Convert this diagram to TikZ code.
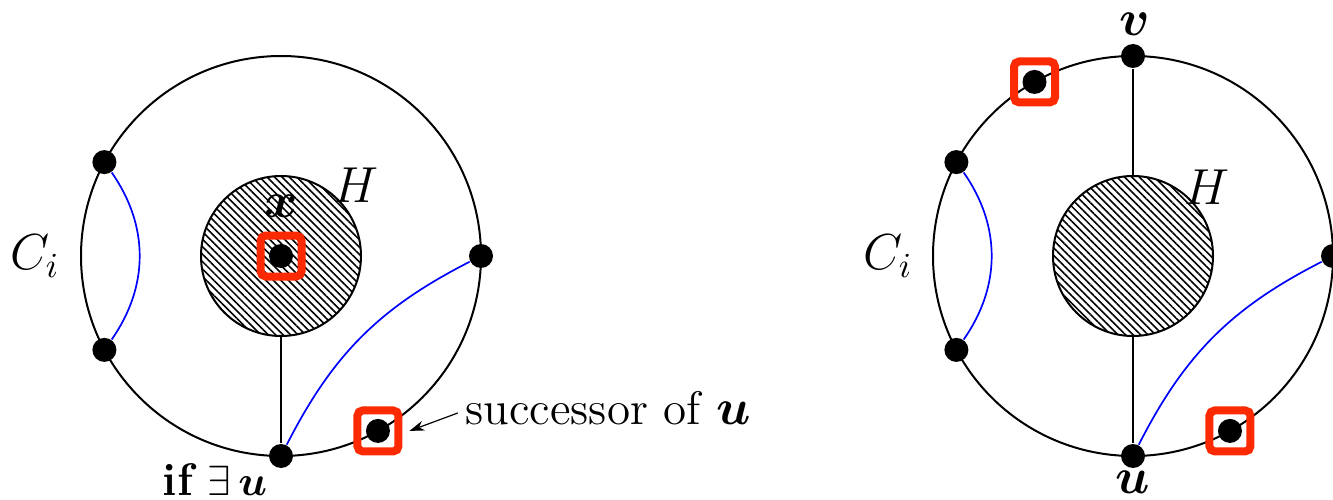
\documentclass[tikz,border=0pt]{standalone}
\usepackage{amsmath, amssymb, bm}
\usetikzlibrary{arrows.meta, positioning, calc, patterns.meta}
\definecolor{boxred}{RGB}{252,42,2}

\begin{document}
\begin{tikzpicture}[
  vtx/.style={circle, fill=black, inner sep=0pt, minimum size=0.24cm},
  selbox/.style={draw=boxred, line width=0.08cm, rounded corners=1.5pt, minimum size=0.41cm, inner sep=0pt},
  hole/.style={circle, draw, line width=0.02cm, inner sep=0pt, minimum size=1.6cm,
    pattern={Lines[angle=-45, distance=1.5pt, line width=0.45pt]}},
  lbl/.style={font=\fontsize{14.4}{17}\selectfont, inner sep=2pt},
  txt/.style={font=\fontsize{13.4}{16}\selectfont, inner sep=2pt},
  bluelink/.style={blue, line width=0.017cm},
]
\useasboundingbox (0,0) rectangle (13.33,4.99);
\coordinate (L) at (2.81,2.43);
\coordinate (R) at (11.33,2.43);
\foreach \c in {L,R}
  \draw[line width=0.02cm] (\c) circle (2cm);

% left picture
\node[hole] (H1) at (L) {};
\node[vtx] (a1) at ($(L)+(152:2)$) {};
\node[vtx] (b1) at ($(L)+(208:2)$) {};
\node[vtx] (c1) at ($(L)+(0:2)$) {};
\node[vtx] (u1) at ($(L)+(270:2)$) {};
\node[vtx] (s1) at ($(L)+(-61:2)$) {};
\node[vtx] (x1) at (H1) {};
\node[selbox] (s1box) at (s1) {};
\node[selbox] (x1box) at (x1) {};

\draw[bluelink] (a1) to[bend left=35] (b1);
\draw[bluelink] (u1) to[bend left=18] (c1);
\draw[line width=0.015cm] (H1.south) -- (u1);

\node[lbl] at (3.56,3.14) {$H$};
\node[lbl] at (2.815,2.93) {$\bm{x}$};
\node[lbl] at (0.35,2.43) {$C_i$};
\node[txt, font=\fontsize{13}{16}\selectfont] at (2.15,0.19) {\textbf{if}\hspace{0.25em}$\exists\,\bm{u}$};
\node[txt] (succ) at (6.08,0.91) {successor of $\bm{u}$};
\draw[-{Stealth[length=0.15cm, width=0.1cm]}, line width=0.012cm]
  ([yshift=-0.05cm]succ.west) -- ([xshift=0.07cm]s1box.east);

% right picture
\node[hole] (H2) at (R) {};
\node[vtx] (a2) at ($(R)+(152:2)$) {};
\node[vtx] (b2) at ($(R)+(208:2)$) {};
\node[vtx] (c2) at ($(R)+(0:2)$) {};
\node[vtx] (u2) at ($(R)+(270:2)$) {};
\node[vtx] (v2) at ($(R)+(90:2)$) {};
\node[vtx] (s2) at ($(R)+(-61:2)$) {};
\node[vtx] (w2) at ($(R)+(119.5:2)$) {};
\node[selbox] (s2box) at (s2) {};
\node[selbox] (w2box) at (w2) {};

\draw[bluelink] (a2) to[bend left=35] (b2);
\draw[bluelink] (u2) to[bend left=18] (c2);
\draw[line width=0.015cm] (v2) -- (H2.north);
\draw[line width=0.015cm] (H2.south) -- (u2);

\node[lbl] at (12.07,3.12) {$H$};
\node[lbl] at (8.88,2.43) {$C_i$};
\node[lbl] at (11.35,4.75) {$\bm{v}$};
\node[lbl] at (11.33,0.17) {$\bm{u}$};
\end{tikzpicture}
\end{document}
